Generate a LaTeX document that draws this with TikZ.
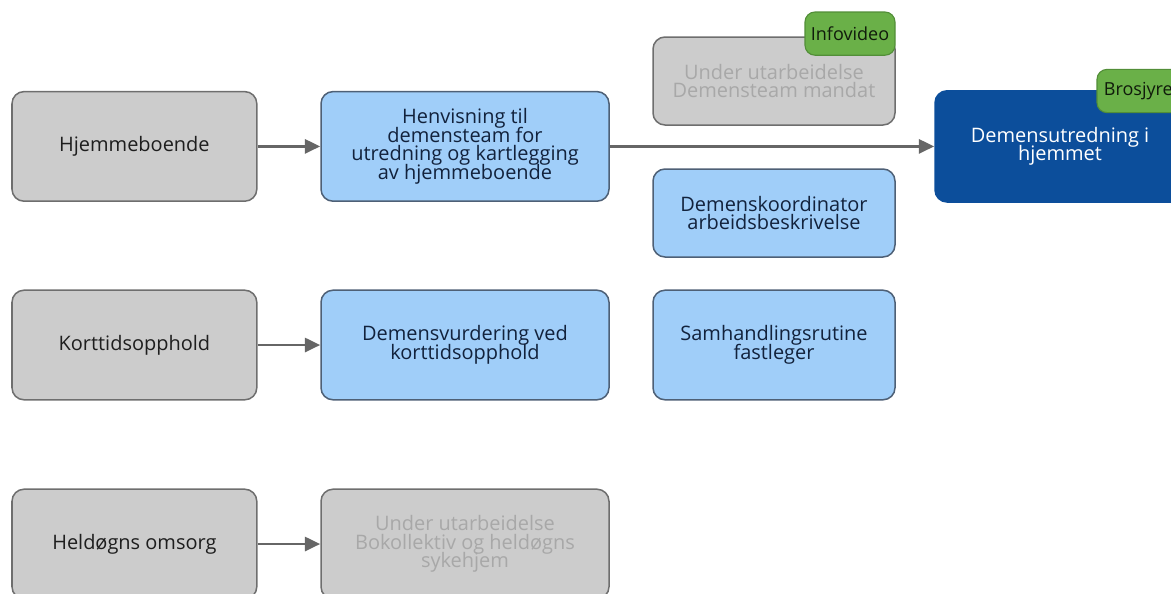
\documentclass[tikz,border=0pt]{standalone}
\usepackage{fontspec}
\setmainfont{Open Sans}
\usetikzlibrary{arrows.meta}
\definecolor{PathGray}{RGB}{204, 204, 204}
\definecolor{PathGrayLine}{RGB}{110, 110, 110}
\definecolor{PathBlue}{RGB}{160, 206, 249}
\definecolor{PathBlueLine}{RGB}{78, 96, 118}
\definecolor{PathDark}{RGB}{12, 78, 155}
\definecolor{PathGreen}{RGB}{106, 176, 72}
\definecolor{PathGreenLine}{RGB}{82, 142, 56}
\definecolor{PathText}{RGB}{30, 30, 30}
\definecolor{PathNavy}{RGB}{18, 34, 60}
\definecolor{PathFaded}{RGB}{168, 168, 168}
\definecolor{PathArrow}{RGB}{102, 102, 102}
\newcommand{\boxfont}{\fontsize{14.2pt}{13.2pt}\selectfont\setlength{\lineskiplimit}{-20pt}}

\begin{document}
\begin{tikzpicture}[
    every node/.style={align=center, font=\boxfont},
    graybox/.style={draw=PathGrayLine, fill=PathGray, text=PathText, line width=1.07pt, rounded corners=0.3cm, minimum width=6.12cm, minimum height=2.74cm},
    todobox/.style={graybox, text=PathFaded},
    bluebox/.style={draw=PathBlueLine, fill=PathBlue, text=PathNavy, line width=1.07pt, rounded corners=0.3cm, minimum width=7.2cm, minimum height=2.74cm},
    darkbox/.style={draw=PathDark, fill=PathDark, text=white, line width=1.07pt, rounded corners=0.3cm, minimum width=6.25cm, minimum height=2.78cm},
    tagbox/.style={draw=PathGreenLine, fill=PathGreen, text=black!85!PathGreen, line width=0.8pt, rounded corners=0.25cm, minimum width=2.25cm, minimum height=1.08cm, font=\fontsize{12.8pt}{13pt}\selectfont},
    flow/.style={-{Triangle[length=11pt, width=10pt]}, line width=2.1pt, PathArrow}
  ]
            \useasboundingbox (0,0) rectangle (29.275,-14.825);
            \clip (0,0) rectangle (29.275,-14.825);

            % Left column
            \node[graybox] (hjemme) at (3.36,-3.66) {Hjemmeboende};
            \node[graybox] (korttid) at (3.36,-8.625) {Korttidsopphold};
            \node[graybox] (heldogn) at (3.36,-13.6) {Heldøgns omsorg};

            % Middle column
            \node[bluebox] (henvisning) at (11.625,-3.66) {Henvisning til\\demensteam for\\utredning og kartlegging\\av hjemmeboende};
            \node[bluebox] (vurdering) at (11.625,-8.625) {Demensvurdering ved\\korttidsopphold};
            \node[todobox, minimum width=7.2cm] (bokollektiv) at (11.625,-13.6) {Under utarbeidelse\\Bokollektiv og heldøgns\\sykehjem};

            % Documents
            \node[todobox, minimum width=6.05cm, minimum height=2.2cm] (mandat) at (19.35,-2.025) {Under utarbeidelse\\Demensteam mandat};
            \node[bluebox, minimum width=6.05cm, minimum height=2.2cm] (koordinator) at (19.35,-5.325) {Demenskoordinator\\arbeidsbeskrivelse};
            \node[bluebox, minimum width=6.05cm] (fastleger) at (19.35,-8.625) {Samhandlingsrutine\\fastleger};
            \node[tagbox] (infovideo) at (21.25,-0.84) {Infovideo};

            % Home assessment
            \node[darkbox] (utredning) at (26.5,-3.66) {Demensutredning i\\hjemmet};
            \node[tagbox] (brosjyrer) at (28.55,-2.275) {Brosjyrer};

            % Arrows
            \draw[flow] (hjemme) -- (henvisning);
            \draw[flow] (henvisning) -- (utredning);
            \draw[flow] (korttid) -- (vurdering);
            \draw[flow] (heldogn) -- (bokollektiv);
        \end{tikzpicture}
\end{document}
